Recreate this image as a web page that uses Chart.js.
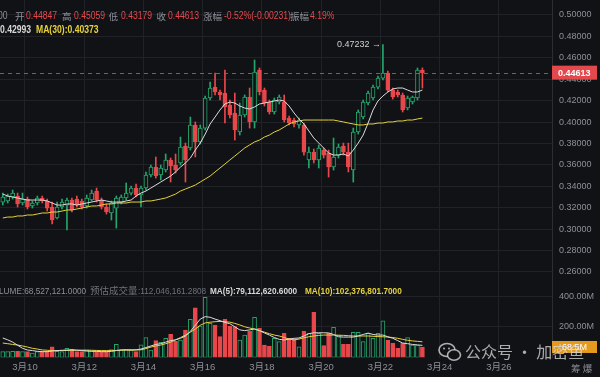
<!DOCTYPE html>
<html>
<head>
<meta charset="utf-8">
<title>4小时K线</title>
<script src="https://cdn.jsdelivr.net/npm/chart.js"></script>
<style>
  body {
    margin: 0;
    background: #111216;
    width: 600px;
    height: 377px;
    overflow: hidden;
    position: relative;
    font-family: "Liberation Sans", "Noto Sans CJK SC", sans-serif;
  }
  canvas { position: absolute; left: 0; }
  #priceChart { top: 0; }
  #volChart { top: 283px; }
  .t { position: absolute; font-size: 10px; line-height: 12px; white-space: nowrap; }
  .n { transform: scaleX(0.86); transform-origin: 0 0; }
  .s { font-size: 9.6px; line-height: 11px; }
  .cn { font-family: "Noto Sans CJK SC", sans-serif; font-size: 9.5px; }
  .g { color: #8d9099; }
  .r { color: #e8474b; }
  .d { color: #6f727a; }
  .w { color: #d8d8d8; font-weight: bold; }
  .y { color: #e6d23c; font-weight: bold; }
  #mark {
    position: absolute; left: 438px; top: 341px;
    font-family: "Noto Sans CJK SC", sans-serif;
    font-size: 16px; line-height: 20px; color: rgba(215,215,215,0.78);
    white-space: nowrap;
  }
  #mark svg { vertical-align: -4px; margin-right: 3px; }
</style>
</head>
<body>
<canvas id="priceChart" width="600" height="283"></canvas>
<canvas id="volChart" width="600" height="94"></canvas>

<!-- 顶部行情 -->
<span class="t n g" style="left:-2px;top:10px">00</span>
<span class="t cn g" style="left:15px;top:10px">开</span>
<span class="t n r" style="left:26px;top:10px">0.44847</span>
<span class="t cn g" style="left:62px;top:10px">高</span>
<span class="t n r" style="left:73.5px;top:10px">0.45059</span>
<span class="t cn g" style="left:108.5px;top:10px">低</span>
<span class="t n r" style="left:120.5px;top:10px">0.43179</span>
<span class="t cn g" style="left:156.5px;top:10px">收</span>
<span class="t n r" style="left:168px;top:10px">0.44613</span>
<span class="t cn g" style="left:203px;top:10px">涨幅</span>
<span class="t n r" style="left:223.5px;top:10px">-0.52%(-0.00231)</span>
<span class="t cn g" style="left:290px;top:10px">振幅</span>
<span class="t n r" style="left:310px;top:10px">4.19%</span>
<span class="t n w" style="left:0;top:24px">0.42993</span>
<span class="t n y" style="left:36px;top:24px">MA(30):0.40373</span>

<!-- 成交量 -->
<span class="t s n g" style="left:-1px;top:284.5px">LUME:68,527,121.0000</span>
<span class="t cn d" style="left:90px;top:284px">预估成交量</span>
<span class="t s n d" style="left:138px;top:284.5px">:112,046,161.2808</span>
<span class="t s n w" style="left:210px;top:284.5px">MA(5):79,112,620.6000</span>
<span class="t s n y" style="left:305px;top:284.5px">MA(10):102,376,801.7000</span>
<span class="t cn g" style="left:571px;top:362px">筹 爆</span>

<div id="mark"><svg width="24" height="20" viewBox="0 0 24 20">
  <ellipse cx="9" cy="8" rx="8" ry="6.5" fill="none" stroke="rgba(215,215,215,0.8)" stroke-width="1.6"/>
  <ellipse cx="16" cy="13" rx="6.5" ry="5.2" fill="#111216" stroke="rgba(215,215,215,0.8)" stroke-width="1.6"/>
  <circle cx="6" cy="6.5" r="1" fill="rgba(215,215,215,0.8)"/><circle cx="11" cy="6.5" r="1" fill="rgba(215,215,215,0.8)"/>
</svg>公众号 · 加密鱼</div>

<script>
// 4小时K线，第一根 3月9 04:00 开盘（时间以 3月10 00:00 起算的小时数）
var startHour = -20;
var opens  = [0.3253,0.3263,0.3300,0.3309,0.3244,0.3281,0.3216,0.3244,0.3291,0.3263,
              0.3207,0.3104,0.3207,0.3225,0.3272,0.3281,0.3263,0.3216,0.3272,0.3356,
              0.3272,0.3207,0.3151,0.3197,0.3253,0.3291,0.3337,0.3384,0.3319,0.3384,
              0.3506,0.3580,0.3506,0.3552,0.3646,0.3599,0.3618,0.3776,0.3758,0.3973,
              0.3814,0.3944,0.4225,0.4327,0.4281,0.4271,0.4159,0.4085,0.3907,0.4066,
              0.4234,0.4001,0.4486,0.4299,0.4187,0.4094,0.4187,0.4187,0.4038,0.4019,
              0.3973,0.3973,0.3646,0.3720,0.3646,0.3739,0.3711,0.3580,0.3692,0.3776,
              0.3720,0.3552,0.3907,0.4047,0.4178,0.4225,0.4327,0.4411,0.4458,0.4299,
              0.4281,0.4253,0.4131,0.4187,0.4225,0.44847];
var highs  = [0.3337,0.3328,0.3365,0.3337,0.3337,0.3300,0.3263,0.3309,0.3309,0.3281,
              0.3253,0.3253,0.3281,0.3291,0.3291,0.3309,0.3281,0.3319,0.3365,0.3384,
              0.3291,0.3235,0.3263,0.3309,0.3319,0.3431,0.3403,0.3421,0.3403,0.3534,
              0.3599,0.3674,0.3599,0.3702,0.3664,0.3702,0.3860,0.3804,0.4047,0.4001,
              0.3973,0.4243,0.4374,0.4458,0.4299,0.4486,0.4206,0.4271,0.4178,0.4253,
              0.4318,0.4580,0.4505,0.4318,0.4206,0.4225,0.4253,0.4253,0.4057,0.4038,
              0.4038,0.3991,0.3767,0.3748,0.3786,0.3758,0.3739,0.3851,0.3795,0.3804,
              0.3804,0.3944,0.4113,0.4206,0.4290,0.4346,0.4430,0.47232,0.4477,0.4318,
              0.4299,0.4271,0.4243,0.4243,0.4505,0.45059];
var lows   = [0.3225,0.3244,0.3281,0.3207,0.3225,0.3188,0.3197,0.3225,0.3244,0.3169,
              0.3048,0.3095,0.3188,0.2992,0.3160,0.3207,0.3188,0.3197,0.3263,0.3253,
              0.3188,0.3141,0.3085,0.3010,0.3235,0.3272,0.3319,0.3300,0.3207,0.3365,
              0.3487,0.3477,0.3459,0.3534,0.3440,0.3524,0.3599,0.3440,0.3739,0.3674,
              0.3795,0.3926,0.4206,0.4253,0.4206,0.3991,0.4038,0.3832,0.3879,0.4047,
              0.3944,0.3944,0.4253,0.4150,0.4075,0.4075,0.4169,0.4001,0.3973,0.3954,
              0.3944,0.3692,0.3571,0.3618,0.3571,0.3664,0.3487,0.3552,0.3664,0.3692,
              0.3534,0.3440,0.3888,0.4029,0.4159,0.4206,0.4309,0.4393,0.4281,0.4215,
              0.4234,0.4094,0.4113,0.4169,0.4206,0.43179];
var closes = [0.3300,0.3309,0.3337,0.3235,0.3281,0.3207,0.3244,0.3291,0.3263,0.3197,
              0.3085,0.3207,0.3253,0.3272,0.3179,0.3225,0.3207,0.3291,0.3337,0.3272,
              0.3207,0.3160,0.3244,0.3291,0.3300,0.3337,0.3384,0.3319,0.3384,0.3506,
              0.3580,0.3496,0.3571,0.3646,0.3590,0.3552,0.3767,0.3646,0.3973,0.3814,
              0.3944,0.4225,0.4318,0.4281,0.4253,0.4141,0.4066,0.3926,0.4066,0.4234,
              0.4001,0.4467,0.4281,0.4178,0.4094,0.4206,0.4234,0.4019,0.3991,0.3982,
              0.4019,0.3720,0.3720,0.3646,0.3758,0.3692,0.3580,0.3674,0.3767,0.3720,
              0.3580,0.3907,0.4094,0.4187,0.4271,0.4327,0.4411,0.4458,0.4299,0.4234,
              0.4253,0.4113,0.4225,0.4234,0.4486,0.44613];
var ma5    = [0.3328,0.3309,0.3300,0.3291,0.3281,0.3272,0.3272,0.3272,0.3272,0.3263,
              0.3244,0.3225,0.3225,0.3235,0.3235,0.3225,0.3235,0.3244,0.3253,0.3263,
              0.3272,0.3263,0.3253,0.3253,0.3253,0.3263,0.3272,0.3309,0.3337,0.3356,
              0.3384,0.3412,0.3440,0.3468,0.3496,0.3534,0.3580,0.3618,0.3664,0.3739,
              0.3804,0.3888,0.3982,0.4047,0.4113,0.4169,0.4187,0.4178,0.4150,0.4131,
              0.4122,0.4141,0.4169,0.4178,0.4187,0.4197,0.4206,0.4197,0.4150,0.4085,
              0.4029,0.3982,0.3917,0.3851,0.3804,0.3758,0.3711,0.3692,0.3692,0.3702,
              0.3683,0.3739,0.3804,0.3879,0.3991,0.4113,0.4197,0.4243,0.4281,0.4309,
              0.4318,0.4318,0.4299,0.4281,0.4281,0.42993];
var ma30   = [0.3104,0.3113,0.3113,0.3123,0.3123,0.3132,0.3132,0.3141,0.3151,0.3151,
              0.3160,0.3160,0.3169,0.3179,0.3179,0.3188,0.3197,0.3207,0.3216,0.3216,
              0.3225,0.3235,0.3235,0.3244,0.3244,0.3244,0.3253,0.3253,0.3253,0.3263,
              0.3263,0.3272,0.3281,0.3291,0.3309,0.3328,0.3356,0.3375,0.3393,0.3412,
              0.3440,0.3468,0.3496,0.3534,0.3571,0.3608,0.3646,0.3683,0.3720,0.3758,
              0.3786,0.3814,0.3832,0.3860,0.3879,0.3907,0.3926,0.3954,0.3982,0.4001,
              0.4010,0.4019,0.4019,0.4019,0.4019,0.4019,0.4019,0.4019,0.4010,0.4001,
              0.3991,0.3982,0.3973,0.3973,0.3982,0.3982,0.3991,0.3991,0.4001,0.4001,
              0.4010,0.4010,0.4019,0.4019,0.4029,0.40373];
// 成交量（百万）
var volumes = [38,38,40,40,38,38,28,38,40,40, 70,40,38,60,55,38,38,48,44,40,
               40,40,52,86,48,52,48,38,82,129, 48,110,98,125,151,106,113,179,249,323,
               205,392,222,211,136,249,205,201,114,146, 172,262,190,81,75,125,103,158,125,119,
               70,172,158,294,158,77,158,197,146,86, 86,164,164,103,158,125,158,238,114,92,
               60,92,129,81,81,68.5];
var volMa5  = [127,115,100,80,60,49,45,40,38,38, 42,45,47,48,50,48,45,42,40,40,
               38,38,40,45,50,50,50,50,55,65, 75,85,90,100,110,115,125,140,170,210,
               250,266,262,250,240,228,220,200,180,175, 180,186,175,160,146,130,118,114,120,125,
               127,140,155,161,161,161,160,150,135,133, 133,133,140,150,159,150,146,146,135,125,
               110,94,90,85,82,79.1];
var volMa10 = [94,90,85,81,75,68,60,55,49,47, 45,45,45,46,47,47,48,48,47,46,
               45,45,45,46,47,48,48,49,50,58, 68,75,81,90,100,115,130,146,165,185,
               210,225,230,233,235,233,230,222,212,200, 192,185,175,165,155,146,140,130,120,114,
               120,128,135,140,144,146,146,146,145,144, 142,140,140,140,140,138,136,135,133,130,
               125,118,112,108,105,102.4];
var priceTicks = [0.26,0.28,0.30,0.32,0.34,0.36,0.38,0.40,0.42,0.44,0.46,0.48,0.50];
var volTicks = [200,400];
var dateLabels = ['3月10','3月12','3月14','3月16','3月18','3月20','3月22','3月24','3月26'];

var bg = '#111216', red = '#e8474b', green = '#25a56b', grid = '#202227', axisText = '#8d9099';
var numFont = '"Liberation Sans", sans-serif';
// 每根K线画在其4小时区间的中点
var times = opens.map(function (o, i) { return startHour + 4 * i + 2; });
var up = closes.map(function (c, i) { return c >= opens[i]; });
var candleColor = up.map(function (u) { return u ? green : red; });

function xAxis(showLabels) {
  return {
    type: 'linear', min: -20.25, max: 427, offset: false,
    afterBuildTicks: function (s) { s.ticks = dateLabels.map(function (d, k) { return { value: k * 48 }; }); },
    afterFit: function (s) { s.paddingLeft = 0; s.paddingRight = 0; s.height = showLabels ? 19.5 : 0; },
    grid: { color: grid, drawTicks: false, offset: false },
    border: { display: false },
    ticks: {
      display: showLabels, autoSkip: false, maxRotation: 0, padding: 4.5, color: axisText,
      font: { size: 9.5, family: '"Liberation Sans", "Noto Sans CJK SC", sans-serif' },
      callback: function (v, i) { return dateLabels[i]; }
    }
  };
}
function yAxis(min, max, ticks, fmt) {
  return {
    position: 'right', min: min, max: max,
    afterBuildTicks: function (s) { s.ticks = ticks.map(function (v) { return { value: v }; }); },
    afterFit: function (s) { s.width = 48; s.paddingTop = 0; s.paddingBottom = 0; },
    grid: { color: grid, drawTicks: false },
    border: { display: true, color: '#2c2e34' },
    ticks: { padding: 7, color: axisText, font: { size: 9, family: numFont }, callback: fmt }
  };
}
function pts(arr) { return arr.map(function (v, i) { return { x: times[i], y: v }; }); }

var pricePlugin = {
  id: 'priceMarks',
  afterDraw: function (chart) {
    var c = chart.ctx, a = chart.chartArea, ys = chart.scales.y, xs = chart.scales.x;
    var last = closes.length - 1, py = ys.getPixelForValue(closes[last]);
    c.save();
    c.strokeStyle = 'rgba(232,71,75,0.85)';
    c.setLineDash([4, 4]);
    c.beginPath(); c.moveTo(a.left, Math.round(py) + 0.5); c.lineTo(a.right, Math.round(py) + 0.5); c.stroke();
    c.setLineDash([]);
    c.fillStyle = '#e2484c';
    c.fillRect(a.right, py - 7, 45, 14);
    c.fillStyle = '#ffffff';
    c.font = 'bold 9px ' + numFont;
    c.textBaseline = 'middle';
    c.fillText(closes[last].toFixed(5), a.right + 6, py + 0.5);
    // 最高价标注
    var hi = 0;
    highs.forEach(function (h, i) { if (h > highs[hi]) hi = i; });
    var hx = xs.getPixelForValue(times[hi]), hy = ys.getPixelForValue(highs[hi]);
    c.fillStyle = '#d0d0d0';
    c.font = '9px ' + numFont;
    c.textAlign = 'right';
    c.fillText(highs[hi].toFixed(5) + ' \u2192', hx - 2, hy);
    c.restore();
  }
};

new Chart(document.getElementById('priceChart'), {
  type: 'bar',
  data: {
    datasets: [
      { data: times.map(function (t, i) { return { x: t, y: [lows[i], highs[i]] }; }),
        backgroundColor: candleColor, borderWidth: 0, barThickness: 1, grouped: false, order: 3 },
      { data: times.map(function (t, i) { return { x: t, y: [opens[i], closes[i]] }; }),
        backgroundColor: up.map(function (u) { return u ? bg : red; }), borderColor: candleColor,
        borderWidth: 1, borderSkipped: false, barThickness: 4, minBarLength: 1, grouped: false, order: 2 },
      { type: 'line', data: pts(ma5), borderColor: '#dcdcdc', borderWidth: 1, pointRadius: 0, order: 1 },
      { type: 'line', data: pts(ma30), borderColor: '#e6d23c', borderWidth: 1, pointRadius: 0, order: 1 }
    ]
  },
  options: {
    responsive: false, animation: false, layout: { padding: 0 },
    plugins: { legend: { display: false }, tooltip: { enabled: false } },
    scales: {
      x: xAxis(false),
      y: yAxis(0.2497, 0.514, priceTicks, function (v) { return v.toFixed(5); })
    }
  },
  plugins: [pricePlugin]
});

var volPlugin = {
  id: 'volMarks',
  afterDraw: function (chart) {
    var c = chart.ctx, a = chart.chartArea, ys = chart.scales.y;
    var v = volumes[volumes.length - 1], py = ys.getPixelForValue(v);
    c.save();
    c.fillStyle = '#e49b1d';
    c.fillRect(a.right, py - 6, 45, 12);
    c.fillStyle = '#ffffff';
    c.font = '9px ' + numFont;
    c.textBaseline = 'middle';
    c.fillText(v.toFixed(1) + 'M', a.right + 10, py + 0.5);
    c.restore();
  }
};

new Chart(document.getElementById('volChart'), {
  type: 'bar',
  data: {
    datasets: [
      { data: pts(volumes), backgroundColor: up.map(function (u) { return u ? bg : red; }),
        borderColor: candleColor, borderWidth: 1, borderSkipped: false, barThickness: 4, order: 2 },
      { type: 'line', data: pts(volMa5), borderColor: '#dcdcdc', borderWidth: 1, pointRadius: 0, order: 1 },
      { type: 'line', data: pts(volMa10), borderColor: '#e6d23c', borderWidth: 1, pointRadius: 0, order: 1 }
    ]
  },
  options: {
    responsive: false, animation: false, layout: { padding: 0 },
    plugins: { legend: { display: false }, tooltip: { enabled: false } },
    scales: {
      x: xAxis(true),
      y: yAxis(0, 485, volTicks, function (v) { return v.toFixed(2) + 'M'; })
    }
  },
  plugins: [volPlugin]
});
</script>
</body>
</html>
